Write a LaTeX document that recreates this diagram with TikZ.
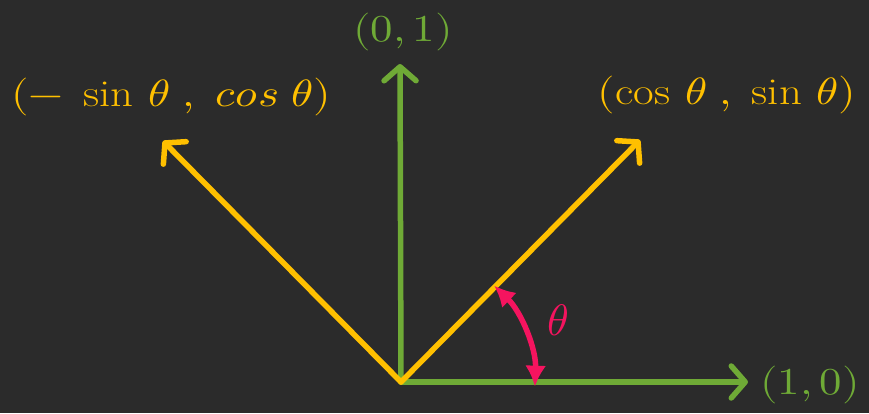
\documentclass[tikz,border=0pt]{standalone}
\usepackage{unicode-math}
\setmathfont{Latin Modern Math}
\usetikzlibrary{arrows.meta,calc}
\definecolor{board}{HTML}{2B2B2B}
\definecolor{axisgreen}{HTML}{6FAA36}
\definecolor{vecgold}{HTML}{FFC000}
\definecolor{anglered}{HTML}{F5145F}
\newcommand{\wide}[1]{\scalebox{1.18}[1]{#1}}
\tikzset{
  axis/.style={draw=axisgreen, line width=5.5pt, line cap=round,
    -{Straight Barb[length=14pt,width=32pt,line width=5.5pt,round]}},
  vec/.style={draw=vecgold, line width=5.5pt, line cap=round,
    -{Straight Barb[length=14pt,width=32pt,line width=5.5pt,round]}},
  ang/.style={draw=anglered, line width=5.5pt,
    {Latex[length=21pt,width=21pt]}-{Latex[length=21pt,width=21pt]}},
  lab/.style={font=\fontsize{38}{44}\selectfont, inner sep=0pt},
}
\begin{document}
\begin{tikzpicture}[x=1pt,y=1pt]
\useasboundingbox (0,0) rectangle (869,413);
\fill[board] (0,0) rectangle (869,413);
\coordinate (O) at (401,31);
\coordinate (E1) at (748,31);
\coordinate (E2) at (400,349);
\coordinate (U) at (640,273);
\coordinate (V) at (163,272);
\draw[axis] (O) -- (E1);
\draw[axis] (O) -- (E2);
\draw[vec] (O) -- (U);
\draw[vec] (O) -- (V);
\draw[ang] ($(O)+(-2:134)$) arc (-2:46:134);
\node[lab, text=axisgreen] (l01) at (403,381) {\wide{$(0,1)$}};
\node[lab, text=axisgreen] (l10) at (810,28) {\wide{$(1,0)$}};
\node[lab, text=vecgold] (lu) at (727,318) {\wide{$(\cos\,\theta\;,\;\sin\,\theta)$}};
\node[lab, text=vecgold] (lv) at (171,316) {\wide{$(-\;\sin\,\theta\;,\;cos\;\theta)$}};
\node[lab, text=anglered, font=\fontsize{44}{50}\selectfont] (lt) at (558,93) {$\theta$};
\end{tikzpicture}
\end{document}
